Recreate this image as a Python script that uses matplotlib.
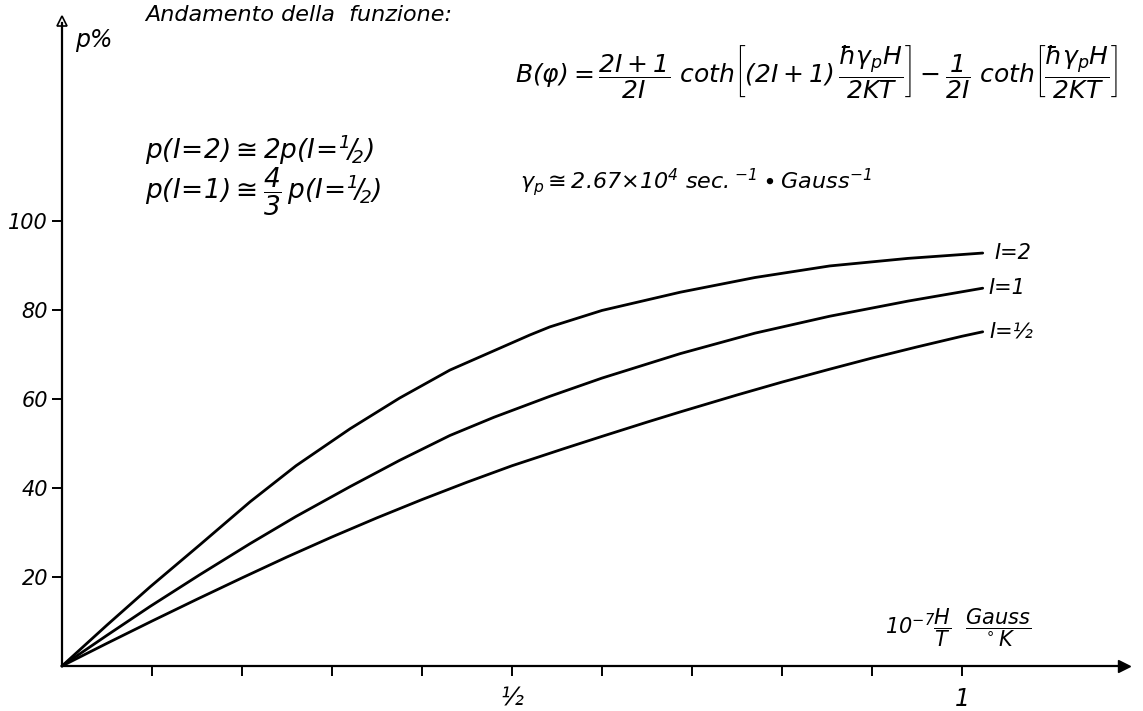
import matplotlib
matplotlib.use("Agg")
import matplotlib.pyplot as plt

# values (p % against 10^-7 H/T)
h_i2 = [0, 0.05, 0.098, 0.153, 0.209, 0.26, 0.32, 0.375, 0.431, 0.52, 0.542,
        0.6, 0.687, 0.77, 0.853, 0.94, 1.023]
p_i2 = [0, 9.2, 17.8, 27.2, 36.9, 45.0, 53.3, 60.2, 66.5, 74.4, 76.2,
        79.9, 84.0, 87.3, 89.9, 91.6, 92.8]

h_i1 = [0, 0.05, 0.098, 0.153, 0.209, 0.26, 0.32, 0.375, 0.431, 0.48, 0.542,
        0.6, 0.687, 0.77, 0.853, 0.94, 1.023]
p_i1 = [0, 6.9, 13.4, 20.5, 27.5, 33.6, 40.3, 46.2, 51.8, 55.9, 60.6,
        64.7, 70.2, 74.8, 78.6, 82.0, 84.9]

h_ihalf = [0, 0.05, 0.1, 0.15, 0.2, 0.25, 0.3, 0.35, 0.4, 0.45, 0.5, 0.557,
           0.6, 0.65, 0.687, 0.75, 0.8, 0.853, 0.9, 0.95, 1.0, 1.023]
p_ihalf = [0, 5.1, 10.1, 15.0, 19.8, 24.5, 29.0, 33.3, 37.4, 41.3, 45.0, 48.8,
           51.6, 54.8, 57.1, 60.9, 63.8, 66.7, 69.2, 71.7, 74.1, 75.1]

curve_labels = ["I=2", "I=1", "I=½"]

y_ticks = [20, 40, 60, 80, 100]
x_ticks = [0.1, 0.2, 0.3, 0.4, 0.5, 0.6, 0.7, 0.8, 0.9, 1.0]
x_tick_labels = ["", "", "", "", "½", "", "", "", "", "1"]


def main():
    plt.rcParams["font.family"] = "DejaVu Sans"
    plt.rcParams["font.style"] = "italic"
    plt.rcParams["mathtext.fontset"] = "custom"
    plt.rcParams["mathtext.rm"] = "DejaVu Sans:italic"
    plt.rcParams["mathtext.it"] = "DejaVu Sans:italic"

    W, H = 1143, 711
    fig = plt.figure(figsize=(W / 100, H / 100), dpi=100)
    ax = fig.add_axes([0, 0, 1, 1])

    # pixel layout: origin at (62, 666), 900 px per unit x, 4.45 px per % y
    ax.set_xlim(-62 / 900, (W - 62) / 900)
    ax.set_ylim(-(H - 666) / 4.45, 666 / 4.45)

    curves = [(h_i2, p_i2), (h_i1, p_i1), (h_ihalf, p_ihalf)]
    for xs, ys in curves:
        ax.plot(xs, ys, color="black", lw=2.0, solid_capstyle="round",
                solid_joinstyle="round")

    for (xs, ys), lab, dx in zip(curves, curve_labels, (0.013, 0.006, 0.008)):
        ax.text(xs[-1] + dx, ys[-1], lab, fontsize=15, va="center", ha="left")

    # axes drawn as hand-style arrows
    for s in ("top", "right"):
        ax.spines[s].set_visible(False)
    ax.spines["left"].set_position(("data", 0))
    ax.spines["bottom"].set_position(("data", 0))
    ax.spines["left"].set_bounds(0, 144.5)
    ax.spines["bottom"].set_bounds(0, 1.176)
    ax.spines["left"].set_linewidth(1.6)
    ax.spines["bottom"].set_linewidth(1.6)
    ax.plot([0], [145], marker="^", ms=7, mfc="white", mec="black", mew=1.2, clip_on=False)
    ax.plot([1.18], [0], marker=">", ms=8, color="black", clip_on=False)

    ax.set_yticks(y_ticks)
    ax.set_yticklabels([str(v) for v in y_ticks])
    ax.set_xticks(x_ticks)
    ax.set_xticklabels(x_tick_labels)
    ax.tick_params(axis="y", direction="out", length=7, width=1.4, pad=3, labelsize=15)
    ax.tick_params(axis="x", direction="out", length=7, width=1.4, pad=8, labelsize=17)

    def px(x, y):
        return x / W, 1 - y / H

    fig.text(*px(145, 15), "Andamento della  funzione:", fontsize=16, va="center")
    fig.text(*px(75, 40), "p%", fontsize=17, va="center")
    fig.text(*px(515, 72),
             r"$B(\varphi) = \dfrac{2I+1}{2I}\ \mathrm{coth}\left[(2I+1)\,\dfrac{\hbar\gamma_p H}{2KT}\right]"
             r"-\dfrac{1}{2I}\ \mathrm{coth}\left[\dfrac{\hbar\gamma_p H}{2KT}\right]$",
             fontsize=18, va="center")
    fig.text(*px(145, 150), r"$p(I\!=\!2) \cong 2p(I\!=\!{}^1\!/\!_2)$", fontsize=19, va="center")
    fig.text(*px(145, 192), r"$p(I\!=\!1) \cong \dfrac{4}{3}\,p(I\!=\!{}^1\!/\!_2)$", fontsize=19, va="center")
    fig.text(*px(520, 182), r"$\gamma_p \cong 2.67{\times}10^4\ sec.^{-1} \bullet Gauss^{-1}$",
             fontsize=16, va="center")
    fig.text(*px(885, 628), r"$10^{-7}\dfrac{H}{T}\ \ \dfrac{Gauss}{{}^\circ K}$", fontsize=15, va="center")

    fig.savefig("out.png", dpi=100)


if __name__ == "__main__":
    main()
